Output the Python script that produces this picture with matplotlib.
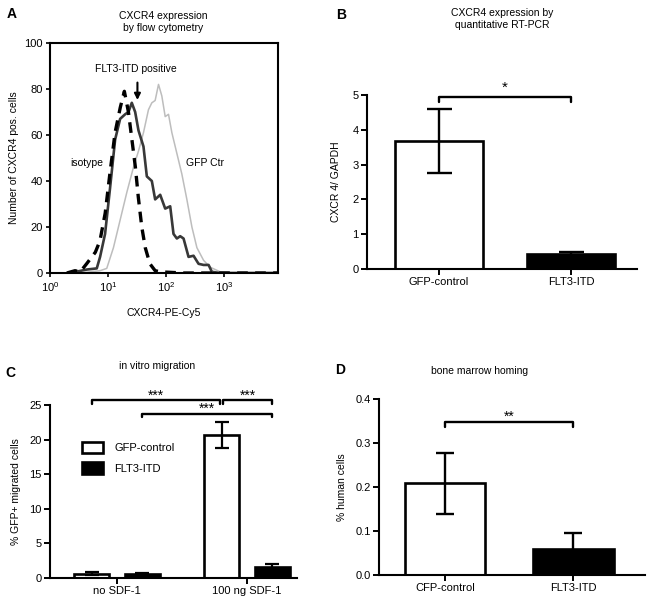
import matplotlib
matplotlib.use("Agg")
import matplotlib.pyplot as plt
import numpy as np
from matplotlib.patches import Patch

plt.rcParams['font.family'] = ['Liberation Sans', 'DejaVu Sans']
plt.rcParams['mathtext.fontset'] = 'custom'
plt.rcParams['mathtext.rm'] = 'Liberation Sans'

# ---- panel A: flow cytometry histograms (x given as log10 intensity) ----
iso_log = [0.29, 0.43, 0.52, 0.63, 0.78, 0.86, 0.95, 1.03, 1.12, 1.21, 1.28,
           1.35, 1.41, 1.47, 1.52, 1.58, 1.64, 1.72, 1.81, 1.90, 2.30, 3.925]
iso_cnt = [0, 1, 0.5, 4, 9, 14, 26, 43, 61, 72, 79,
           70, 58, 46, 33, 20, 11, 4, 1, 0.5, 0, 0]

flt_log = [0.345, 0.632, 0.805, 0.862, 0.948, 1.034, 1.121, 1.207, 1.293, 1.351,
           1.408, 1.466, 1.523, 1.609, 1.667, 1.753, 1.810, 1.897, 1.983, 2.069,
           2.126, 2.184, 2.241, 2.299, 2.385, 2.471, 2.557, 2.644, 2.730, 2.787,
           2.931, 3.925]
flt_cnt = [0, 1.5, 2, 7, 17, 37, 58, 67, 69, 70,
           74, 70, 62, 55, 42, 40, 32, 34, 28, 29,
           17, 15, 16, 15, 7, 7.5, 4, 3.5, 3.5, 0.5,
           0, 0]

gfp_log = [0.517, 0.862, 0.977, 1.092, 1.207, 1.322, 1.437, 1.523, 1.609, 1.695,
           1.753, 1.810, 1.868, 1.925, 1.983, 2.040, 2.098, 2.184, 2.270, 2.356,
           2.443, 2.529, 2.644, 2.759, 2.931, 3.161, 3.925]
gfp_cnt = [0, 1, 2, 11, 23, 35, 46, 53, 61, 71,
           74, 75, 82, 77, 68, 69, 61, 52, 43, 32,
           20, 11, 5.5, 2.5, 0.5, 0, 0]

# ---- panel B: qRT-PCR ----
b_groups = ['GFP-control', 'FLT3-ITD']
b_mean = [3.67, 0.42]
b_err = [0.92, 0.08]

# ---- panel C: in vitro migration ----
c_groups = ['no SDF-1', '100 ng SDF-1']
c_gfp = [0.65, 20.65]
c_gfp_err = [0.22, 1.85]
c_flt = [0.6, 1.6]
c_flt_err = [0.15, 0.45]

# ---- panel D: bone marrow homing ----
d_groups = ['CFP-control', 'FLT3-ITD']
d_mean = [0.208, 0.060]
d_err = [0.070, 0.036]

W, H = 654, 605
fig = plt.figure(figsize=(W / 100, H / 100), dpi=100)


def box(l, t, r, b):
    return [l / W, 1 - b / H, (r - l) / W, (b - t) / H]


def bracket(ax, x1, x2, y, drop, label, ty, fs=11):
    ax.plot([x1, x1, x2, x2], [y - drop, y, y, y - drop], color='black',
            lw=1.7, clip_on=False, solid_capstyle='round', solid_joinstyle='round')
    ax.text((x1 + x2) / 2, ty, label, ha='center', va='center', fontsize=fs,
            clip_on=False)


def prism_axes(ax):
    for s in ['top', 'right']:
        ax.spines[s].set_visible(False)
    for s in ['left', 'bottom']:
        ax.spines[s].set_linewidth(1.5)
    ax.tick_params(axis='both', direction='out', width=1.4, length=4,
                   labelsize=8, pad=2)


# ---------- A ----------
axA = fig.add_axes(box(50, 43, 278, 273))
axA.plot(10 ** np.array(gfp_log), gfp_cnt, color='#bdbdbd', lw=1.1)
axA.plot(10 ** np.array(flt_log), flt_cnt, color='#383838', lw=1.9)
axA.plot(10 ** np.array(iso_log), iso_cnt, color='black', lw=2.4,
         dashes=(3.2, 2.2))
axA.set_xscale('log')
axA.set_xlim(1, 10 ** 3.925)
axA.set_ylim(0, 100)
axA.set_xticks([1, 10, 100, 1000])
axA.set_yticks([0, 20, 40, 60, 80, 100])
for s in axA.spines.values():
    s.set_linewidth(1.5)
axA.tick_params(axis='both', direction='out', width=1.2, length=3,
                labelsize=8, pad=2)
axA.tick_params(axis='x', which='minor', length=0)
axA.set_ylabel('Number of CXCR4 pos. cells', fontsize=7.5, labelpad=4)
axA.set_xlabel('CXCR4-PE-Cy5', fontsize=7.5, labelpad=10)
axA.text(4.3, 48, 'isotype', fontsize=7.5, ha='center', va='center')
axA.text(470, 48, 'GFP Ctr', fontsize=7.5, ha='center', va='center')
axA.text(30, 88.5, 'FLT3-ITD positive', fontsize=7.5, ha='center',
         va='center')
axA.annotate('', xy=(32, 74), xytext=(32, 84),
             arrowprops=dict(arrowstyle='-|>', color='black', lw=1.5,
                             mutation_scale=9))
fig.text(163 / W, 1 - 22 / H, 'CXCR4 expression\nby flow cytometry',
         ha='center', va='center', fontsize=7.5, linespacing=1.25)
fig.text(12 / W, 1 - 14 / H, 'A', fontsize=10, fontweight='bold',
         ha='center', va='center')

# ---------- B ----------
axB = fig.add_axes(box(367, 95, 637, 269))
xb = np.arange(len(b_groups))
axB.bar(xb, b_mean, width=0.67, color=['white', 'black'], edgecolor='black',
        linewidth=1.9, zorder=2)
axB.errorbar(xb, b_mean, yerr=b_err, fmt='none', ecolor='black', elinewidth=1.7,
             capsize=9, capthick=1.7, zorder=3)
axB.set_xlim(-0.545, 1.5)
axB.set_ylim(0, 5)
axB.set_yticks([0, 1, 2, 3, 4, 5])
axB.set_xticks(xb)
axB.set_xticklabels(b_groups)
prism_axes(axB)
axB.set_ylabel('CXCR 4/ GAPDH', fontsize=7.5, labelpad=8)
bracket(axB, 0, 1, 4.95, 0.15, '*', 5.2)
fig.text(502 / W, 1 - 19 / H, 'CXCR4 expression by\nquantitative RT-PCR',
         ha='center', va='center', fontsize=7.5, linespacing=1.25)
fig.text(341 / W, 1 - 15 / H, 'B', fontsize=10, fontweight='bold',
         ha='center', va='center')

# ---------- C ----------
axC = fig.add_axes(box(50, 405, 297, 578))
xc = np.arange(len(c_groups))
off = 0.195
bw = 0.27
axC.bar(xc - off, c_gfp, width=bw, color='white', edgecolor='black',
        linewidth=1.9, zorder=2, label='GFP-control')
axC.bar(xc + off, c_flt, width=bw, color='black', edgecolor='black',
        linewidth=1.9, zorder=2, label='FLT3-ITD')
axC.errorbar(xc - off, c_gfp, yerr=c_gfp_err, fmt='none', ecolor='black',
             elinewidth=1.6, capsize=5, capthick=1.6, zorder=3)
axC.errorbar(xc + off, c_flt, yerr=c_flt_err, fmt='none', ecolor='black',
             elinewidth=1.6, capsize=5, capthick=1.6, zorder=3)
axC.set_xlim(-0.515, 1.385)
axC.set_ylim(0, 25)
axC.set_yticks([0, 5, 10, 15, 20, 25])
axC.set_xticks(xc)
axC.set_xticklabels(c_groups)
prism_axes(axC)
axC.set_ylabel('% GFP+ migrated cells', fontsize=7.5, labelpad=6)
handles = [Patch(facecolor='white', edgecolor='black', linewidth=1.9),
           Patch(facecolor='black', edgecolor='black', linewidth=1.9)]
axC.legend(handles, ['GFP-control', 'FLT3-ITD'], loc='upper left',
           bbox_to_anchor=(0.09, 0.845), frameon=False, fontsize=8,
           handlelength=1.9, handleheight=1.2, handletextpad=1.0,
           labelspacing=0.8)
bracket(axC, -off, 1 - off - 0.01, 25.7, 0.5, '***', 26.4, fs=10)
bracket(axC, 1 - off + 0.01, 1 + off, 25.7, 0.5, '***', 26.4, fs=10)
bracket(axC, off, 1 + off, 23.75, 0.5, '***', 24.45, fs=10)
fig.text(157 / W, 1 - 366 / H, 'in vitro migration', ha='center',
         va='center', fontsize=7.5)
fig.text(10 / W, 1 - 373 / H, 'C', fontsize=10, fontweight='bold',
         ha='center', va='center')

# ---------- D ----------
axD = fig.add_axes(box(379, 399, 645, 575))
xd = np.arange(len(d_groups))
axD.bar(xd, d_mean, width=0.63, color=['white', 'black'], edgecolor='black',
        linewidth=1.9, zorder=2)
axD.errorbar(xd, d_mean, yerr=d_err, fmt='none', ecolor='black', elinewidth=1.7,
             capsize=6.5, capthick=1.7, zorder=3)
axD.set_xlim(-0.516, 1.56)
axD.set_ylim(0, 0.4)
axD.set_yticks([0.0, 0.1, 0.2, 0.3, 0.4])
axD.set_yticklabels(['0.0', '0.1', '0.2', '0.3', '0.4'])
axD.set_xticks(xd)
axD.set_xticklabels(d_groups)
prism_axes(axD)
axD.set_ylabel('% human cells', fontsize=7.5, labelpad=6)
bracket(axD, 0, 1, 0.348, 0.012, '**', 0.359, fs=10)
fig.text(480 / W, 1 - 371 / H, 'bone marrow homing', ha='center',
         va='center', fontsize=7.5)
fig.text(340 / W, 1 - 370 / H, 'D', fontsize=10, fontweight='bold',
         ha='center', va='center')

fig.savefig('out.png', dpi=100)
